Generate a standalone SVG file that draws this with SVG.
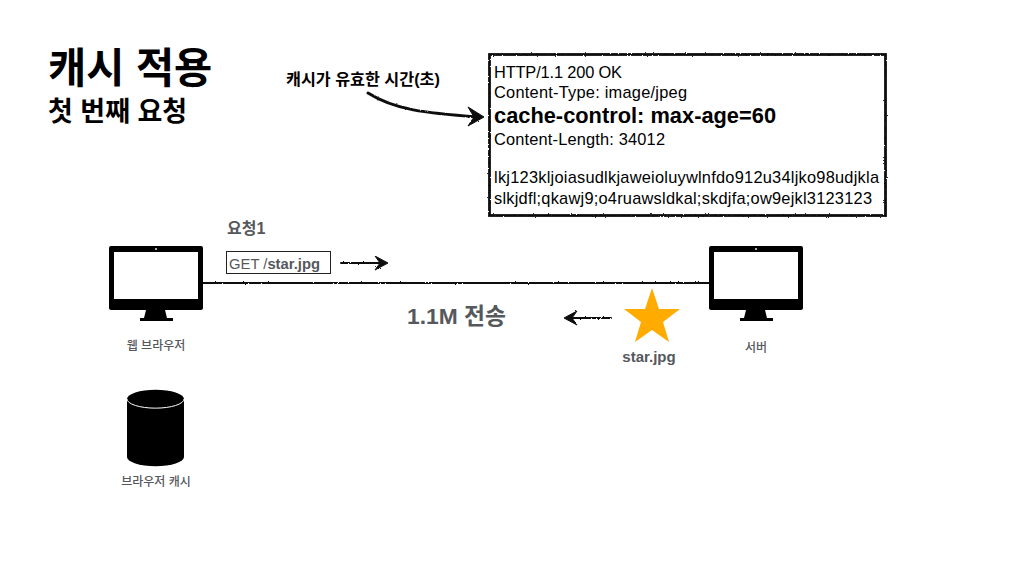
<svg xmlns="http://www.w3.org/2000/svg" width="1024" height="568" viewBox="0 0 1024 568">
<defs>
<style>
text{font-family:"Liberation Sans","Noto Sans CJK KR",sans-serif;fill:#000}
.g{fill:#55585c;font-weight:700}
.cap{fill:#55585c;font-size:12px;font-weight:500;text-anchor:middle}
.h{font-size:16.4px}
.sk{fill:none;stroke:#111;stroke-linecap:round;stroke-linejoin:round}
.hd{fill:#111;stroke:#111;stroke-linejoin:round}
</style>
<filter id="rough" filterUnits="userSpaceOnUse" x="0" y="0" width="1024" height="568">
<feTurbulence type="fractalNoise" baseFrequency="0.6" numOctaves="2" seed="3"/>
<feDisplacementMap in="SourceGraphic" scale="2.2"/>
</filter>
<g id="monitor">
<rect x="0" y="0" width="94" height="64" rx="2" fill="#000"/>
<rect x="5" y="6" width="84" height="47" fill="#fff"/>
<circle cx="47" cy="3" r="0.9" fill="#fff"/>
<path d="M37 64H56L58 72H64V75H31V72H35Z" fill="#000"/>
</g>
</defs>
<rect width="1024" height="568" fill="#fff"/>
<g id="title">
<text x="48" y="83" font-size="41.500" font-weight="700">캐시 적용</text>
<text x="48" y="121" font-size="27" font-weight="700">첫 번째 요청</text>
</g>
<g id="connectors" filter="url(#rough)">
<path class="sk" stroke-width="2" d="M203 283H709"/>
<path class="sk" stroke-width="2" d="M341 263H384"/>
<path class="hd" stroke-width="1" d="M375 256L388 263L375 270L380 263Z"/>
<path class="sk" stroke-width="2" d="M611 318H568"/>
<path class="hd" stroke-width="1" d="M577 311L564 318L577 325L572 318Z"/>
<path class="sk" stroke-width="3" d="M368 93C395 110 425 113 478 117"/>
<path class="hd" stroke-width="1" d="M468 107L484 117L468 126L474 117Z"/>
</g>
<g id="annotation"><text x="286" y="85" font-size="16.200" font-weight="700">캐시가 유효한 시간(초)</text></g>
<g id="response">
<rect x="489.500" y="54.500" width="396" height="161" fill="#fff" stroke="#111" stroke-width="2.800" filter="url(#rough)"/>
<text class="h" x="494" y="78" textLength="128">HTTP/1.1 200 OK</text>
<text class="h" x="494" y="98" textLength="193">Content-Type: image/jpeg</text>
<text x="494" y="123" font-size="21.800" font-weight="700" textLength="282">cache-control: max-age=60</text>
<text class="h" x="494" y="145" textLength="171">Content-Length: 34012</text>
<text class="h" x="494" y="183" textLength="385">lkj123kljoiasudlkjaweioluywlnfdo912u34ljko98udjkla</text>
<text class="h" x="494" y="204" textLength="378">slkjdfl;qkawj9;o4ruawsldkal;skdjfa;ow9ejkl3123123</text>
</g>
<g id="request-label">
<text class="g" x="227" y="234" font-size="16">요청1</text>
<rect x="226.500" y="251.500" width="104" height="22" fill="#fff" stroke="#222" stroke-width="1"/>
<text x="229" y="269" font-size="14.800" style="fill:#55585c">GET /<tspan font-weight="700">star.jpg</tspan></text>
</g>
<g id="browser">
<use href="#monitor" x="109" y="246"/>
<text class="cap" x="156" y="350">웹 브라우저</text>
</g>
<g id="server">
<use href="#monitor" x="709" y="246"/>
<text class="cap" x="756" y="352">서버</text>
</g>
<g id="transfer-label"><text class="g" x="407" y="324" font-size="22.800">1.1M 전송</text></g>
<g id="star">
<polygon points="652,288 659,309 680,309 663,322 669,342 652,330 635,342 641,322 624,309 645,309" fill="#ffab00"/>
<text class="g" x="649" y="362" font-size="15" text-anchor="middle">star.jpg</text>
</g>
<g id="browser-cache">
<path d="M127 399A28 9 0 0 1 184 399V457A28 9 0 0 1 127 457Z" fill="#000"/>
<path d="M127 399A28 9 0 0 0 184 399" fill="none" stroke="#fff" stroke-width="1"/>
<text class="cap" x="156" y="486">브라우저 캐시</text>
</g>
</svg>
